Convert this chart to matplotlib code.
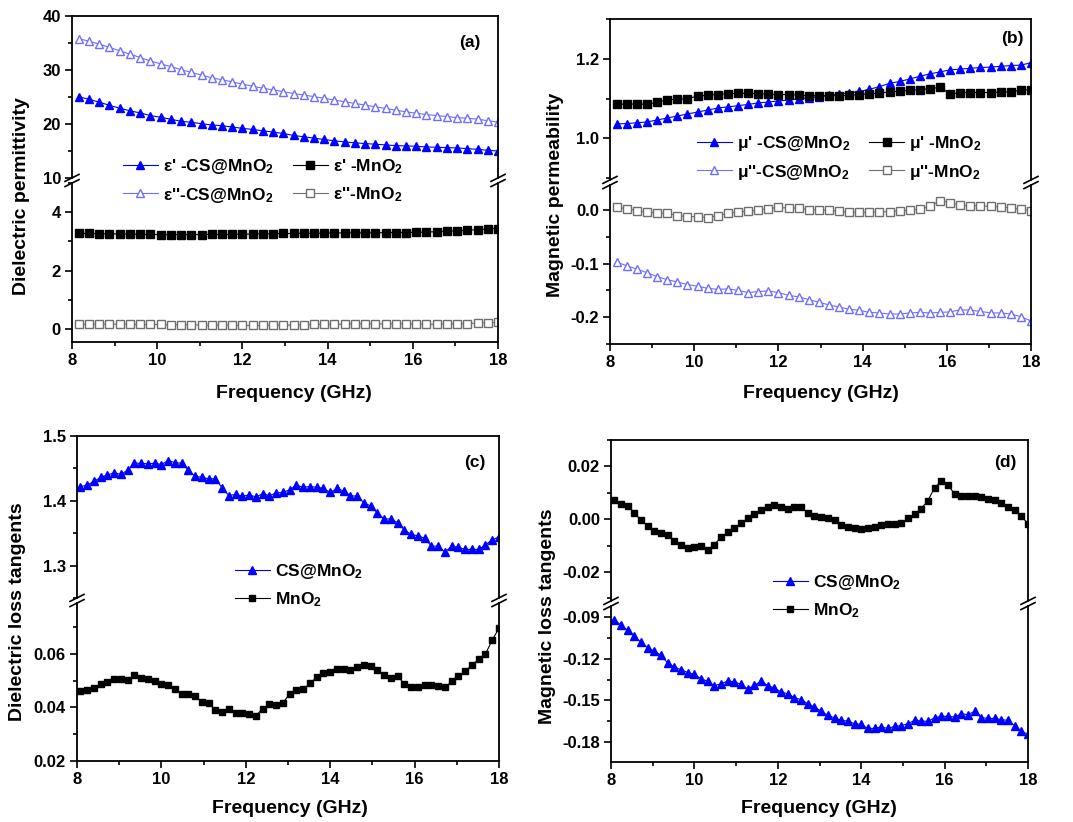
import matplotlib
matplotlib.use("Agg")
import matplotlib.pyplot as plt
from matplotlib.lines import Line2D
from matplotlib.ticker import MultipleLocator, FormatStrFormatter

plt.rcParams["font.family"] = ["Liberation Sans", "DejaVu Sans"]
plt.rcParams["font.weight"] = "bold"
plt.rcParams["mathtext.fontset"] = "custom"
plt.rcParams["mathtext.rm"] = "Liberation Sans:bold"
plt.rcParams["mathtext.it"] = "Liberation Sans:bold"
plt.rcParams["mathtext.bf"] = "Liberation Sans:bold"
plt.rcParams["axes.unicode_minus"] = False

# ---- data ----
freq_ab = [8.16, 8.40, 8.64, 8.88, 9.12, 9.36, 9.60, 9.84, 10.08, 10.32,
           10.56, 10.80, 11.04, 11.28, 11.52, 11.76, 12.00, 12.24, 12.48, 12.72,
           12.96, 13.20, 13.44, 13.68, 13.92, 14.16, 14.40, 14.64, 14.88, 15.12,
           15.36, 15.60, 15.84, 16.08, 16.32, 16.56, 16.80, 17.04, 17.28, 17.52,
           17.76, 18.00]

eps1_cs = [25.06, 24.56, 24.06, 23.44, 22.94, 22.44, 22.06, 21.56, 21.25, 20.88,
           20.50, 20.31, 20.06, 19.81, 19.69, 19.44, 19.19, 19.00, 18.75, 18.50,
           18.25, 17.88, 17.63, 17.38, 17.13, 16.88, 16.69, 16.50, 16.38, 16.25,
           16.13, 16.00, 15.94, 15.88, 15.75, 15.69, 15.63, 15.56, 15.44, 15.31,
           15.13, 15.00]
eps2_cs = [35.81, 35.31, 34.81, 34.19, 33.56, 32.94, 32.31, 31.69, 31.13, 30.63,
           30.06, 29.56, 29.06, 28.56, 28.19, 27.81, 27.38, 27.00, 26.63, 26.31,
           26.00, 25.63, 25.38, 25.06, 24.75, 24.44, 24.13, 23.81, 23.50, 23.19,
           22.88, 22.56, 22.25, 22.00, 21.75, 21.56, 21.38, 21.19, 21.06, 20.90,
           20.60, 20.35]
eps1_mn = [3.27, 3.27, 3.26, 3.26, 3.25, 3.25, 3.24, 3.24, 3.23, 3.23,
           3.23, 3.23, 3.23, 3.24, 3.24, 3.24, 3.25, 3.25, 3.26, 3.26,
           3.27, 3.27, 3.28, 3.28, 3.28, 3.29, 3.29, 3.29, 3.29, 3.29,
           3.30, 3.30, 3.30, 3.31, 3.32, 3.33, 3.35, 3.36, 3.38, 3.40,
           3.42, 3.44]
eps2_mn = [0.15, 0.16, 0.16, 0.16, 0.16, 0.16, 0.15, 0.15, 0.15, 0.14,
           0.14, 0.14, 0.13, 0.13, 0.13, 0.13, 0.12, 0.12, 0.12, 0.13,
           0.13, 0.13, 0.14, 0.15, 0.15, 0.16, 0.16, 0.17, 0.17, 0.17,
           0.17, 0.17, 0.17, 0.16, 0.16, 0.16, 0.17, 0.17, 0.18, 0.20,
           0.21, 0.23]

mu1_cs = [1.036, 1.037, 1.039, 1.041, 1.046, 1.051, 1.056, 1.061, 1.066, 1.071,
          1.076, 1.079, 1.082, 1.085, 1.089, 1.091, 1.094, 1.096, 1.099, 1.102,
          1.104, 1.108, 1.111, 1.114, 1.118, 1.123, 1.130, 1.138, 1.143, 1.149,
          1.156, 1.162, 1.167, 1.172, 1.174, 1.176, 1.178, 1.179, 1.181, 1.183,
          1.184, 1.190]
mu1_mn = [1.086, 1.086, 1.086, 1.086, 1.090, 1.097, 1.098, 1.100, 1.106, 1.108,
          1.110, 1.112, 1.113, 1.113, 1.112, 1.111, 1.110, 1.110, 1.108, 1.107,
          1.107, 1.107, 1.107, 1.108, 1.110, 1.112, 1.113, 1.117, 1.118, 1.121,
          1.122, 1.125, 1.128, 1.112, 1.114, 1.115, 1.115, 1.115, 1.116, 1.117,
          1.121, 1.122]
mu2_cs = [-0.097, -0.104, -0.110, -0.117, -0.124, -0.130, -0.134, -0.139, -0.142, -0.146,
          -0.148, -0.147, -0.150, -0.154, -0.152, -0.151, -0.154, -0.159, -0.162, -0.167,
          -0.172, -0.177, -0.181, -0.185, -0.187, -0.191, -0.192, -0.194, -0.194, -0.192,
          -0.191, -0.192, -0.191, -0.190, -0.186, -0.187, -0.189, -0.192, -0.192, -0.194,
          -0.199, -0.207]
mu2_mn = [0.005, 0.003, -0.001, -0.004, -0.005, -0.006, -0.010, -0.012, -0.012, -0.014,
          -0.010, -0.006, -0.003, -0.002, 0.000, 0.003, 0.005, 0.004, 0.004, 0.001,
          0.000, 0.000, -0.002, -0.004, -0.004, -0.004, -0.003, -0.003, -0.001, 0.000,
          0.002, 0.007, 0.018, 0.014, 0.009, 0.008, 0.008, 0.007, 0.006, 0.004,
          0.002, -0.001]

freq_cd = [8.08, 8.24, 8.40, 8.56, 8.72, 8.88, 9.04, 9.20, 9.36, 9.52,
           9.68, 9.84, 10.00, 10.16, 10.32, 10.48, 10.64, 10.80, 10.96, 11.12,
           11.28, 11.44, 11.60, 11.76, 11.92, 12.08, 12.24, 12.40, 12.56, 12.72,
           12.88, 13.04, 13.20, 13.36, 13.52, 13.68, 13.84, 14.00, 14.16, 14.32,
           14.48, 14.64, 14.80, 14.96, 15.12, 15.28, 15.44, 15.60, 15.76, 15.92,
           16.08, 16.24, 16.40, 16.56, 16.72, 16.88, 17.04, 17.20, 17.36, 17.52,
           17.68, 17.84, 18.00]

tan_e_cs = [1.422, 1.424, 1.430, 1.436, 1.440, 1.443, 1.441, 1.447, 1.458, 1.458,
            1.457, 1.458, 1.456, 1.462, 1.459, 1.458, 1.447, 1.438, 1.436, 1.434,
            1.434, 1.420, 1.408, 1.410, 1.407, 1.409, 1.406, 1.411, 1.408, 1.412,
            1.413, 1.417, 1.424, 1.421, 1.422, 1.421, 1.419, 1.413, 1.419, 1.415,
            1.408, 1.407, 1.397, 1.392, 1.381, 1.372, 1.372, 1.366, 1.355, 1.348,
            1.346, 1.342, 1.330, 1.330, 1.321, 1.330, 1.328, 1.325, 1.325, 1.325,
            1.332, 1.340, 1.344]
tan_e_mn = [0.0463, 0.0466, 0.0473, 0.0487, 0.0494, 0.0506, 0.0506, 0.0503, 0.0520, 0.0511,
            0.0506, 0.0498, 0.0486, 0.0484, 0.0468, 0.0452, 0.0452, 0.0441, 0.0422, 0.0415,
            0.0391, 0.0383, 0.0393, 0.0381, 0.0381, 0.0374, 0.0369, 0.0396, 0.0411, 0.0409,
            0.0416, 0.0452, 0.0466, 0.0467, 0.0491, 0.0512, 0.0529, 0.0534, 0.0544, 0.0545,
            0.0540, 0.0550, 0.0558, 0.0553, 0.0540, 0.0522, 0.0511, 0.0516, 0.0488, 0.0477,
            0.0477, 0.0484, 0.0483, 0.0481, 0.0475, 0.0497, 0.0517, 0.0535, 0.0559, 0.0580,
            0.0600, 0.0652, 0.0696]

tan_m_cs = [-0.0924, -0.0955, -0.0996, -0.1039, -0.1080, -0.1120, -0.1145, -0.1176, -0.1231, -0.1260,
            -0.1279, -0.1300, -0.1313, -0.1344, -0.1363, -0.1394, -0.1380, -0.1361, -0.1366, -0.1385,
            -0.1418, -0.1392, -0.1361, -0.1394, -0.1411, -0.1440, -0.1452, -0.1481, -0.1495, -0.1524,
            -0.1548, -0.1577, -0.1608, -0.1625, -0.1644, -0.1649, -0.1668, -0.1673, -0.1702, -0.1702,
            -0.1692, -0.1702, -0.1687, -0.1682, -0.1668, -0.1644, -0.1649, -0.1651, -0.1625, -0.1615,
            -0.1615, -0.1620, -0.1596, -0.1603, -0.1579, -0.1625, -0.1630, -0.1630, -0.1639, -0.1644,
            -0.1682, -0.1721, -0.1745]
tan_m_mn = [0.0073, 0.0058, 0.0050, 0.0025, -0.0005, -0.0025, -0.0045, -0.0053, -0.0060, -0.0083,
            -0.0098, -0.0111, -0.0106, -0.0101, -0.0116, -0.0096, -0.0068, -0.0050, -0.0035, -0.0015,
            0.0003, 0.0018, 0.0033, 0.0048, 0.0055, 0.0048, 0.0038, 0.0045, 0.0048, 0.0023,
            0.0013, 0.0010, 0.0005, -0.0003, -0.0023, -0.0030, -0.0033, -0.0038, -0.0033, -0.0028,
            -0.0023, -0.0020, -0.0020, -0.0015, 0.0003, 0.0018, 0.0040, 0.0070, 0.0120, 0.0143,
            0.0130, 0.0095, 0.0088, 0.0087, 0.0087, 0.0085, 0.0078, 0.0072, 0.0062, 0.0048,
            0.0035, 0.0012, -0.0018]

BLUE = "#0000ff"
LBLUE = "#6f6fff"
GREY = "#6e6e6e"

W, H = 1073, 822
fig = plt.figure(figsize=(W / 100, H / 100), dpi=100)


def box(x0, y0, x1, y1):
    return [x0 / W, 1 - y1 / H, (x1 - x0) / W, (y1 - y0) / H]


def style(ax, major, minor, fmt):
    ax.set_xlim(8, 18)
    ax.xaxis.set_major_locator(MultipleLocator(2))
    ax.xaxis.set_minor_locator(MultipleLocator(1))
    ax.yaxis.set_major_locator(MultipleLocator(major))
    ax.yaxis.set_minor_locator(MultipleLocator(minor))
    ax.yaxis.set_major_formatter(FormatStrFormatter(fmt))
    ax.tick_params(which="both", direction="out", width=1.2, labelsize=12,
                   top=False, right=False, pad=3)
    ax.tick_params(which="major", length=5)
    ax.tick_params(which="minor", length=3)
    for s in ax.spines.values():
        s.set_linewidth(1.3)


def panel(x0, x1, yt, yb1, yb2, yb, top_lim, bot_lim, top_tk, bot_tk):
    at = fig.add_axes(box(x0, yt, x1, yb1))
    ab = fig.add_axes(box(x0, yb2, x1, yb))
    at.set_ylim(*top_lim)
    ab.set_ylim(*bot_lim)
    style(at, *top_tk)
    style(ab, *bot_tk)
    at.spines["bottom"].set_visible(False)
    at.tick_params(axis="x", which="both", bottom=False, labelbottom=False)
    ab.spines["top"].set_visible(False)
    ym = (yb1 + yb2) / 2
    for xp in (x0, x1):
        for off in (-2.6, 2.6):
            xs = [(xp - 7) / W, (xp + 7) / W]
            ys = [1 - (ym + off + 3.5) / H, 1 - (ym + off - 3.5) / H]
            fig.add_artist(Line2D(xs, ys, color="black", lw=1.2,
                                  transform=fig.transFigure))
    return at, ab


mk = dict(lw=0.8, markersize=6)
leg_kw = dict(frameon=False, fontsize=12.5, handlelength=2.0, handletextpad=0.3,
              borderpad=0, borderaxespad=0, labelspacing=0.55, columnspacing=1.1)

# (a)
at, ab = panel(72, 498, 16, 178, 183, 342, (10, 40), (-0.45, 5.0),
               (10, 5, "%d"), (2, 1, "%d"))
h1, = at.plot(freq_ab, eps1_cs, "^-", color=BLUE, mfc=BLUE, mec=BLUE, **mk)
h2, = at.plot(freq_ab, eps2_cs, "^-", color=LBLUE, mfc="white", mec=LBLUE, **mk)
h3, = ab.plot(freq_ab, eps1_mn, "s-", color="black", **dict(mk, markersize=5.5))
h4, = ab.plot(freq_ab, eps2_mn, "s-", color=GREY, mfc="white", mec=GREY,
              **dict(mk, markersize=5.5))
fig.legend([h1, h2, h3, h4],
           ["ε' -CS@MnO$_2$", "ε''-CS@MnO$_2$", "ε' -MnO$_2$", "ε''-MnO$_2$"],
           ncol=2, loc="upper left", bbox_to_anchor=(123 / W, 1 - 157 / H), **leg_kw)
fig.text(470 / W, 1 - 42 / H, "(a)", fontsize=12.5, ha="center", va="center")
fig.text(22 / W, 1 - 196 / H, "Dielectric permittivity", fontsize=14,
         rotation=90, ha="center", va="center")
fig.text(294 / W, 1 - 393 / H, "Frequency (GHz)", fontsize=14, ha="center", va="center")

# (b)
at, ab = panel(610, 1031, 19, 180, 185, 344, (0.895, 1.3), (-0.25, 0.047),
               (0.2, 0.1, "%.1f"), (0.1, 0.05, "%.1f"))
h1, = at.plot(freq_ab, mu1_cs, "^-", color=BLUE, mfc=BLUE, mec=BLUE, **mk)
h3, = at.plot(freq_ab, mu1_mn, "s-", color="black", **dict(mk, markersize=5.5))
h2, = ab.plot(freq_ab, mu2_cs, "^-", color=LBLUE, mfc="white", mec=LBLUE, **mk)
h4, = ab.plot(freq_ab, mu2_mn, "s-", color=GREY, mfc="white", mec=GREY,
              **dict(mk, markersize=5.5))
fig.legend([h1, h2, h3, h4],
           ["μ' -CS@MnO$_2$", "μ''-CS@MnO$_2$", "μ' -MnO$_2$", "μ''-MnO$_2$"],
           ncol=2, loc="upper left", bbox_to_anchor=(697 / W, 1 - 134 / H), **leg_kw)
fig.text(1012 / W, 1 - 39 / H, "(b)", fontsize=12.5, ha="center", va="center")
fig.text(555 / W, 1 - 195 / H, "Magnetic permeability", fontsize=14,
         rotation=90, ha="center", va="center")
fig.text(821 / W, 1 - 393 / H, "Frequency (GHz)", fontsize=14, ha="center", va="center")

# (c)
at, ab = panel(77, 499, 436, 598, 603, 761, (1.25, 1.5), (0.02, 0.079),
               (0.1, 0.05, "%.1f"), (0.02, 0.01, "%.2f"))
h1, = at.plot(freq_cd, tan_e_cs, "^-", color=BLUE, mfc=BLUE, mec=BLUE,
              **dict(mk, markersize=5.5))
h2, = ab.plot(freq_cd, tan_e_mn, "s-", color="black", **dict(mk, markersize=5))
fig.legend([h1, h2], ["CS@MnO$_2$", "MnO$_2$"], loc="upper left",
           bbox_to_anchor=(235 / W, 1 - 562 / H), **leg_kw)
fig.text(475 / W, 1 - 462 / H, "(c)", fontsize=12.5, ha="center", va="center")
fig.text(18 / W, 1 - 612 / H, "Dielectric loss tangents", fontsize=14,
         rotation=90, ha="center", va="center")
fig.text(290 / W, 1 - 808 / H, "Frequency (GHz)", fontsize=14, ha="center", va="center")

# (d)
at, ab = panel(611, 1028, 440, 601, 606, 762, (-0.031, 0.03), (-0.1944, -0.082),
               (0.02, 0.01, "%.2f"), (0.03, 0.015, "%.2f"))
h1, = ab.plot(freq_cd, tan_m_cs, "^-", color=BLUE, mfc=BLUE, mec=BLUE,
              **dict(mk, markersize=5.5))
h2, = at.plot(freq_cd, tan_m_mn, "s-", color="black", **dict(mk, markersize=5))
fig.legend([h1, h2], ["CS@MnO$_2$", "MnO$_2$"], loc="upper left",
           bbox_to_anchor=(773 / W, 1 - 573 / H), **leg_kw)
fig.text(1005 / W, 1 - 462 / H, "(d)", fontsize=12.5, ha="center", va="center")
fig.text(548 / W, 1 - 616 / H, "Magnetic loss tangents", fontsize=14,
         rotation=90, ha="center", va="center")
fig.text(819 / W, 1 - 808 / H, "Frequency (GHz)", fontsize=14, ha="center", va="center")

fig.savefig("out.png", dpi=100)
